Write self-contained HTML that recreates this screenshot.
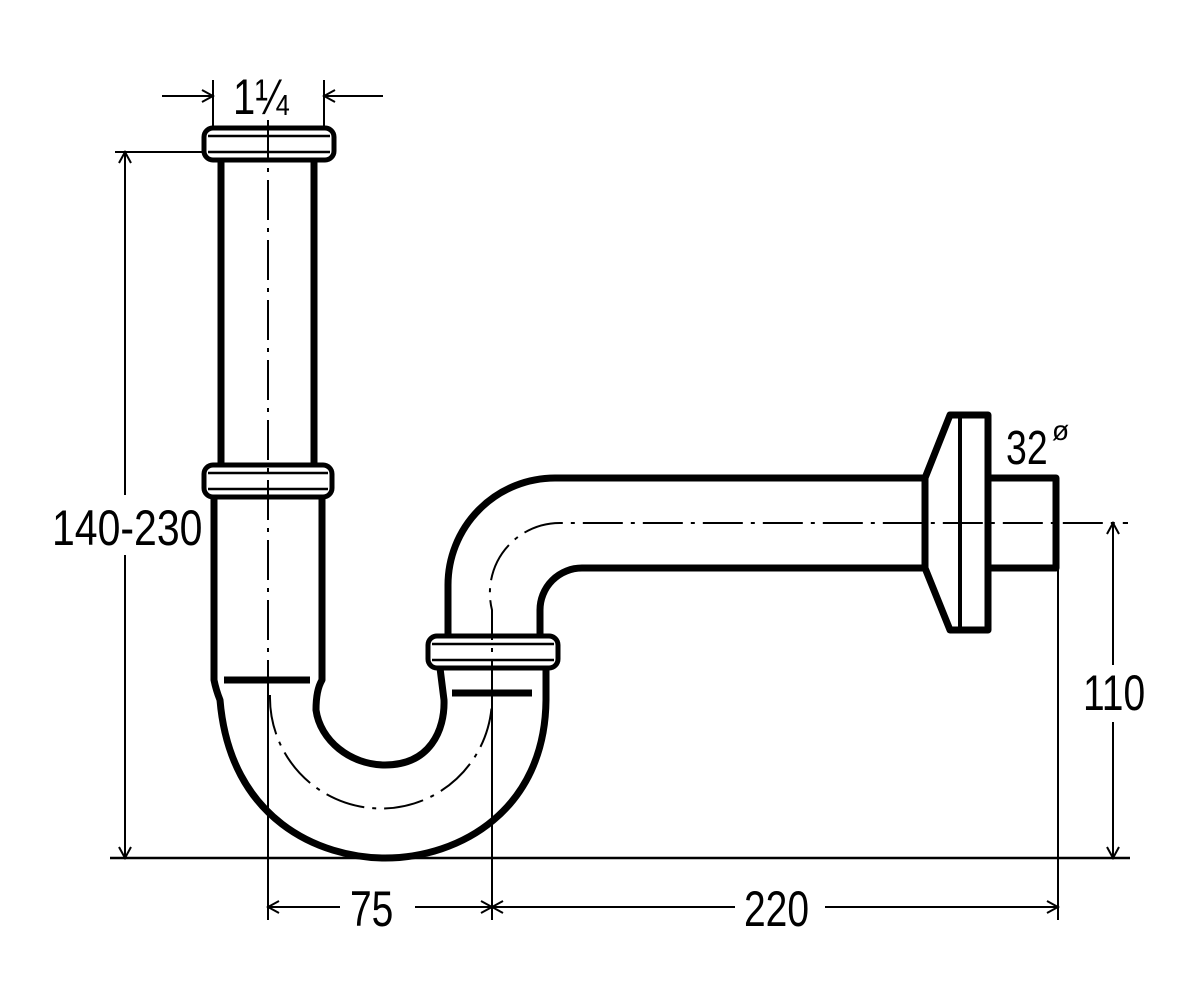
<!DOCTYPE html>
<html><head><meta charset="utf-8"><style>html,body{margin:0;padding:0;background:#fff}svg{display:block}
text{font-family:"Liberation Sans",sans-serif;fill:#000}</style></head><body>
<svg width="1200" height="1000" viewBox="0 0 1200 1000" xmlns="http://www.w3.org/2000/svg">
<defs><marker id="a" markerWidth="14" markerHeight="14" refX="12" refY="7" orient="auto-start-reverse" markerUnits="userSpaceOnUse"><path d="M1,1 L12,7 L1,13" fill="none" stroke="#000" stroke-width="2"/></marker></defs>
<g fill="none" stroke="#000">
<g stroke-width="2" stroke-dasharray="40,8,4,8">
<line x1="268" y1="120" x2="268" y2="690"/>
<path d="M492,700 L492,610 A70,70 0 0 1 562,523 L1128,523"/>
<path d="M270,695 A111,111 0 0 0 492,700" />
</g>
<g stroke-width="2">
<line x1="268" y1="690" x2="268" y2="920"/>
<line x1="492" y1="700" x2="492" y2="920"/>
<line x1="1058" y1="570" x2="1058" y2="920"/>
<line x1="110" y1="858" x2="1130" y2="858" stroke-width="2.5"/>
<line x1="115" y1="152" x2="205" y2="152"/>
<line x1="213" y1="80" x2="213" y2="126"/>
<line x1="324" y1="80" x2="324" y2="126"/>
<line x1="125" y1="152" x2="125" y2="495" marker-start="url(#a)"/>
<line x1="125" y1="555" x2="125" y2="858" marker-end="url(#a)"/>
<line x1="1113" y1="665" x2="1113" y2="523" marker-end="url(#a)"/>
<line x1="1113" y1="722" x2="1113" y2="858" marker-end="url(#a)"/>
<line x1="162" y1="96" x2="213" y2="96" marker-end="url(#a)"/>
<line x1="383" y1="96" x2="324" y2="96" marker-end="url(#a)"/>
<line x1="268" y1="907" x2="340" y2="907" marker-start="url(#a)"/>
<line x1="415" y1="907" x2="492" y2="907" marker-end="url(#a)"/>
<line x1="492" y1="907" x2="735" y2="907" marker-start="url(#a)"/>
<line x1="825" y1="907" x2="1058" y2="907" marker-end="url(#a)"/>
</g>
<g stroke-width="7" stroke-linejoin="round">
<line x1="221" y1="160" x2="221" y2="465"/>
<line x1="314" y1="160" x2="314" y2="465"/>
<path d="M214,497 L214,680 Q216,690 220,700 C230,820 320,858 385,858 C460,858 545,810 546,700 L546,668"/>
<path d="M322,497 L322,680 Q316,690 316,710 C320,740 350,765 385,765 C430,765 445,730 444,700 L440,668"/>
<path d="M448,635 L448,585 A107,107 0 0 1 555,478 L925,478"/>
<path d="M540,635 L540,610 A42,42 0 0 1 582,568 L925,568"/>
<path d="M925,478 L925,568 L950,630 L988,630 L988,415 L950,415 Z"/>
<path d="M988,478 L1056,478 L1056,568 L988,568"/>
<line x1="224" y1="680" x2="310" y2="680"/>
<line x1="452" y1="693" x2="532" y2="693"/>
</g>
<line x1="960" y1="415" x2="960" y2="630" stroke-width="4"/>
<g stroke-width="5">
<rect x="204" y="128" width="130" height="32" rx="9"/>
<rect x="204" y="465" width="128" height="32" rx="9"/>
<rect x="428" y="636" width="130" height="32" rx="9"/>
</g>
<g stroke-width="2.5">
<line x1="208" y1="136" x2="330" y2="136"/><line x1="208" y1="152" x2="330" y2="152"/>
<line x1="208" y1="473" x2="328" y2="473"/><line x1="208" y1="489" x2="328" y2="489"/>
<line x1="432" y1="644" x2="554" y2="644"/><line x1="432" y1="660" x2="554" y2="660"/>
</g>
</g>
<g font-size="50">
<text transform="translate(52,545) scale(0.82,1)">140-230</text>
<text transform="translate(350,926) scale(0.78,1)">75</text>
<text transform="translate(744,926) scale(0.78,1)">220</text>
<text transform="translate(1083,710) scale(0.78,1)">110</text>
<text transform="translate(1006,464) scale(0.78,1)" font-size="48">32</text>
<text x="1052" y="440" font-size="28">ø</text>
<text transform="translate(233,114) scale(0.8,1)" font-size="50">1¼</text>
</g>
</svg>
</body></html>
